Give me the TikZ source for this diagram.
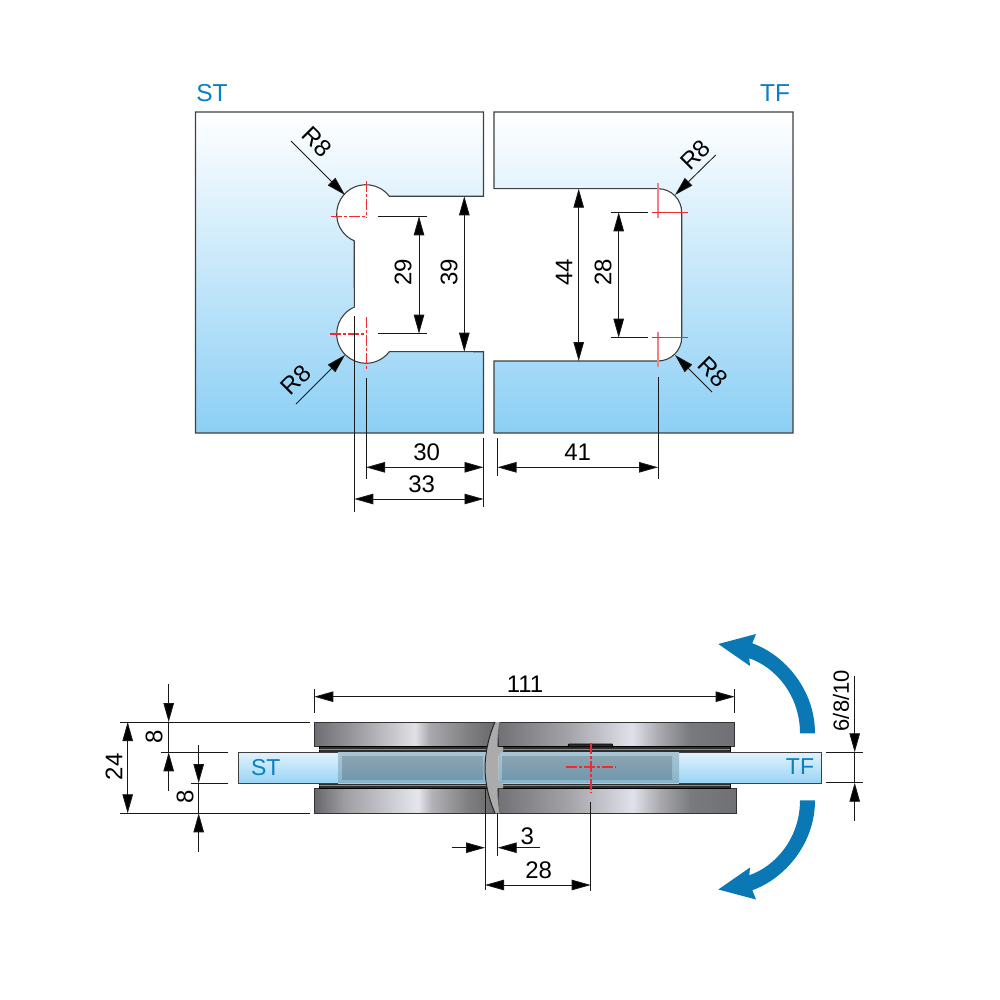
\documentclass[tikz,border=0pt]{standalone}
\usepackage{fontspec}
\setmainfont{Liberation Sans}
\usetikzlibrary{arrows.meta}
\definecolor{bluelab}{HTML}{0A80C0}
\definecolor{bluearrow}{HTML}{0A78B5}
\definecolor{redc}{HTML}{EE2A32}
\definecolor{redl}{HTML}{F0808A}
\definecolor{platebot}{HTML}{8CCFF5}
\pgfdeclarehorizontalshading{metaltopl}{100bp}{rgb(0bp)=(.43,.43,.45);rgb(25bp)=(.43,.43,.45);rgb(33.5bp)=(.56,.56,.58);rgb(52.6bp)=(.88,.88,.90);rgb(56.5bp)=(.66,.66,.68);rgb(67bp)=(.5,.5,.51);rgb(75bp)=(.40,.40,.42);rgb(100bp)=(.40,.40,.42)}
\pgfdeclarehorizontalshading{metalbotl}{100bp}{rgb(0bp)=(.40,.40,.42);rgb(25bp)=(.40,.40,.42);rgb(33.5bp)=(.62,.62,.64);rgb(53.4bp)=(.90,.90,.93);rgb(57bp)=(.70,.70,.72);rgb(67bp)=(.5,.5,.51);rgb(75bp)=(.40,.40,.42);rgb(100bp)=(.40,.40,.42)}
\pgfdeclarehorizontalshading{metalr}{100bp}{rgb(0bp)=(.44,.44,.46);rgb(25bp)=(.44,.44,.46);rgb(40bp)=(.64,.64,.66);rgb(53.3bp)=(.88,.88,.92);rgb(59bp)=(.66,.66,.68);rgb(65.5bp)=(.47,.48,.49);rgb(75bp)=(.44,.44,.46);rgb(100bp)=(.44,.44,.46)}
\tikzset{
  dimtxt/.style={font=\fontsize{24}{28}\selectfont,inner sep=0pt,text=black},
  bluetxt/.style={font=\fontsize{24.5}{28}\selectfont,inner sep=0pt,text=bluelab},
  bluein/.style={font=\fontsize{23}{27}\selectfont,inner sep=0pt,text=bluelab},
  plate/.style={draw=black!75,line width=1.1pt,top color=white,bottom color=platebot},
  thin line/.style={draw=black!90,line width=.85pt},
  dimboth/.style={thin line,{Triangle[length=19pt,width=10.5pt,fill=black]}-{Triangle[length=19pt,width=10.5pt,fill=black]}},
  dimhead/.style={thin line,-{Triangle[length=19pt,width=10.5pt,fill=black]}},
  redline/.style={draw=redc,line width=1.6pt,dash pattern=on 11pt off 2pt on 3pt off 2pt},
  redsoft/.style={draw=redl,line width=1.2pt},
  clampbox/.style={draw=black!80,line width=1pt},
  gasket/.style={fill=black!82,draw=black,line width=.9pt},
  tint/.style={top color=tinttop,bottom color=tintbot},
  inner/.style={top color=innertop,bottom color=innerbot},
  glassfill/.style={top color=glasstop,bottom color=glassbot},
}
\definecolor{tinttop}{HTML}{A8C5D5}
\definecolor{tintbot}{HTML}{8AB4CB}
\definecolor{innertop}{HTML}{8BA4B2}
\definecolor{innerbot}{HTML}{7398AC}
\definecolor{glasstop}{HTML}{E2F2FC}
\definecolor{glassbot}{HTML}{98D4F5}
\begin{document}
\begin{tikzpicture}[x=1pt,y=-1pt]
\useasboundingbox[fill=white] (0,0) rectangle (1000,1000);
% ---------- upper plates
\path[plate] (195.5,112) -- (483.5,112) -- (483.5,196.3) -- (389.3,196.3)
  arc[start angle=37.2,end angle=246.5,radius=29.3pt] -- (354.3,307.1)
  arc[start angle=113.5,end angle=322.8,radius=29.3pt] -- (483.5,351.7)
  -- (483.5,433) -- (195.5,433) -- cycle;
\path[plate] (494,112) -- (793,112) -- (793,433) -- (494,433) -- (494,361) -- (658,361)
  arc[start angle=270,end angle=360,radius=23.7pt] -- (681.7,212.4)
  arc[start angle=0,end angle=90,radius=23.7pt] -- (494,188.7) -- cycle;
\node[bluetxt] (lblst) at (212,93) {ST};
\node[bluetxt] (lbltf) at (775,93) {TF};
% red centre marks
\draw[redline] (331,216.5) -- (366,216.5);
\draw[redline] (366.5,181) -- (366.5,218);
\draw[redline] (330,334) -- (366,334);
\draw[redline] (366.5,317) -- (366.5,370);
\draw[redsoft] (658,183) -- (658,218);
\draw[redsoft] (658,331.7) -- (658,367);
\draw[draw=redc,line width=1.2pt] (652,212.5) -- (687.7,212.5);
\draw[draw=redc,line width=1.2pt] (652,337.5) -- (687.7,337.5);
% extension lines upper
\draw[thin line] (377.5,216.3) -- (427,216.3);
\draw[thin line] (377.5,333.7) -- (427,333.7);
\draw[thin line] (610.7,212.3) -- (648,212.3);
\draw[thin line] (610.7,337.7) -- (648,337.7);
\draw[thin line] (354.3,316) -- (354.3,511.5);
\draw[thin line] (366,378) -- (366,479);
\draw[thin line] (483.5,438) -- (483.5,506.5);
\draw[thin line] (497.5,438) -- (497.5,475.7);
\draw[thin line] (658,377) -- (658,479);
% dimensions upper
\draw[dimboth] (419,216.3) -- (419,333.7);
\draw[dimboth] (464.3,196.3) -- (464.3,351.7);
\draw[dimboth] (578.7,188.7) -- (578.7,361);
\draw[dimboth] (618.7,212.3) -- (618.7,337.7);
\draw[dimboth] (366,467.3) -- (483.5,467.3);
\draw[dimboth] (354.3,499) -- (483.5,499);
\draw[dimboth] (497.5,467.3) -- (658,467.3);
\draw[dimhead] (291,141) -- (345,195);
\draw[dimhead] (296,404) -- (345,355);
\draw[dimhead] (715.7,155) -- (675,195);
\draw[dimhead] (712,392) -- (675,355);
\node[dimtxt,rotate=90] (d29) at (403,272) {29};
\node[dimtxt,rotate=90] (d39) at (449,272) {39};
\node[dimtxt,rotate=90] (d44) at (564,272) {44};
\node[dimtxt,rotate=90] (d28a) at (603,272) {28};
\node[dimtxt] (d30) at (426.7,452) {30};
\node[dimtxt] (d33) at (421.7,484) {33};
\node[dimtxt] (d41) at (577.7,452) {41};
\node[dimtxt,rotate=-45] (r1) at (317,142) {R8};
\node[dimtxt,rotate=45] (r2) at (296,380) {R8};
\node[dimtxt,rotate=45] (r3) at (695,155) {R8};
\node[dimtxt,rotate=-45] (r4) at (713,372) {R8};
% ---------- lower view: clamp plates
\path[shading=metaltopl,clampbox] (314.3,722) -- (497,722) -- (497,746.7) -- (314.3,746.7) -- cycle;
\path[shading=metalbotl,clampbox] (314.3,788.3) -- (497,788.3) -- (497,813.3) -- (314.3,813.3) -- cycle;
\path[shading=metalr,clampbox] (498,722) -- (734.7,722) -- (734.7,746.7) -- (498,746.7) -- cycle;
\path[shading=metalr,clampbox] (498,788.3) -- (736.3,788.3) -- (736.3,813.3) -- (498,813.3) -- cycle;
% gaskets
\path[gasket] (319.3,746.7) rectangle (730,752.3);
\path[gasket] (319.3,783) rectangle (730,788.3);
\draw[black!45,line width=.4pt] (319.3,749.5) -- (730,749.5);
\draw[black!45,line width=.4pt] (319.3,785.6) -- (730,785.6);
\path[gasket] (567.7,746.7) -- (569,744) -- (612,744) -- (613,746.7) -- cycle;
% glass
\path[glassfill] (238.5,752.3) rectangle (486,783);
\path[glassfill] (498,752.3) rectangle (821.3,783);
\path[tint] (338,752.8) rectangle (485,782.6);
\path[tint] (499,752.8) rectangle (679,782.6);
\path[inner] (342,756) rectangle (483,779);
\path[inner] (502,756) rectangle (672,779);
\draw[black!75,line width=1pt] (338,752.3) -- (238.5,752.3) -- (238.5,783) -- (338,783);
\draw[black!75,line width=1pt] (679,752.3) -- (821.3,752.3) -- (821.3,783) -- (679,783);
% hinge centre piece
\path[fill=black!33,draw=none] (495,722) .. controls (488,738) and (485,755) .. (485,768)
  .. controls (485,781) and (488,797) .. (495,813.3)
  -- (500,813.3) .. controls (498.5,805) and (497.7,797) .. (497.7,788.5)
  -- (503,788.3) -- (503,783.5) -- (500,783) -- (498.5,780) -- (498.5,755.5) -- (500,752.5)
  -- (503,752) -- (503,747) -- (497.7,746.7)
  .. controls (497.7,738) and (498.5,730) .. (500,722) -- cycle;
\draw[black!85,line width=1pt] (495,722) .. controls (488,738) and (485,755) .. (485,768)
  .. controls (485,781) and (488,797) .. (495,813.3);
\draw[black!60,line width=.9pt] (500,722) .. controls (498.5,730) and (497.7,738) .. (497.7,746.7);
\draw[black!60,line width=.9pt] (497.7,788.5) .. controls (497.7,797) and (498.5,805) .. (500,813.3);
\draw[white!70!black,line width=1pt] (499,753) -- (499,782);
% lower red cross
\draw[redline] (590.7,742.7) -- (590.7,792.7);
\draw[redline] (566,767) -- (616,767);
\node[bluein] (lblst2) at (265.7,767.3) {ST};
\node[bluein] (lbltf2) at (800,766.7) {TF};
% lower extension lines
\draw[thin line] (120,722) -- (310,722);
\draw[thin line] (120,813.3) -- (310,813.3);
\draw[thin line] (161,752.3) -- (227.7,752.3);
\draw[thin line] (191,783) -- (227.7,783);
\draw[thin line] (314.3,689) -- (314.3,712.7);
\draw[thin line] (734.7,689) -- (734.7,712.7);
\draw[thin line] (826,752.3) -- (862.7,752.3);
\draw[thin line] (826,782.7) -- (862.7,782.7);
\draw[thin line] (485,788) -- (485,890);
\draw[thin line] (497.7,813) -- (497.7,855.7);
\draw[thin line] (590.7,801.7) -- (590.7,890.7);
% lower dimensions
\draw[dimboth] (127.7,722) -- (127.7,813.3);
\draw[dimboth] (314.3,696.7) -- (734.7,696.7);
\draw[dimboth] (485,885) -- (590.7,885);
\draw[dimhead] (168.7,684) -- (168.7,722);
\draw[dimhead] (168.7,790.7) -- (168.7,752.3);
\draw[thin line] (168.7,722) -- (168.7,752.3);
\draw[dimhead] (198.7,744.7) -- (198.7,783);
\draw[dimhead] (198.7,851.7) -- (198.7,813.3);
\draw[thin line] (198.7,783) -- (198.7,813.3);
\draw[dimhead] (854.7,676) -- (854.7,752.3);
\draw[dimhead] (854.7,820.7) -- (854.7,782.7);
\draw[thin line] (854.7,752.3) -- (854.7,782.7);
\draw[dimhead] (451.7,847.7) -- (485,847.7);
\draw[dimhead] (540,847.7) -- (497.7,847.7);
\node[dimtxt,rotate=90] (d24) at (114,766.7) {24};
\node[dimtxt,rotate=90] (d8a) at (154,736.7) {8};
\node[dimtxt,rotate=90] (d8b) at (185,796.7) {8};
\node[dimtxt] (d111) at (525,684) {111};
\node[dimtxt] (d3) at (527.3,836.7) {3};
\node[dimtxt] (d28b) at (538.7,870) {28};
\node[dimtxt,rotate=90,font=\fontsize{22}{26}\selectfont] (d6810) at (841,700.7) {6/8/10};
% blue swing arrows
\fill[bluearrow] (815,733.3) .. controls (815,690) and (785,655) .. (752.3,643.3)
  -- (756,634) -- (718.3,644) -- (750,666) -- (749.3,658.3)
  .. controls (775,667) and (800,695) .. (800,733.3) -- cycle;
\fill[bluearrow] (815,800.3) .. controls (815,843.5) and (785,878.5) .. (752.3,890.2)
  -- (756,899.5) -- (718.3,889.5) -- (750,867.5) -- (749.3,875.2)
  .. controls (775,866.5) and (800,838.5) .. (800,800.3) -- cycle;
\end{tikzpicture}
\end{document}
